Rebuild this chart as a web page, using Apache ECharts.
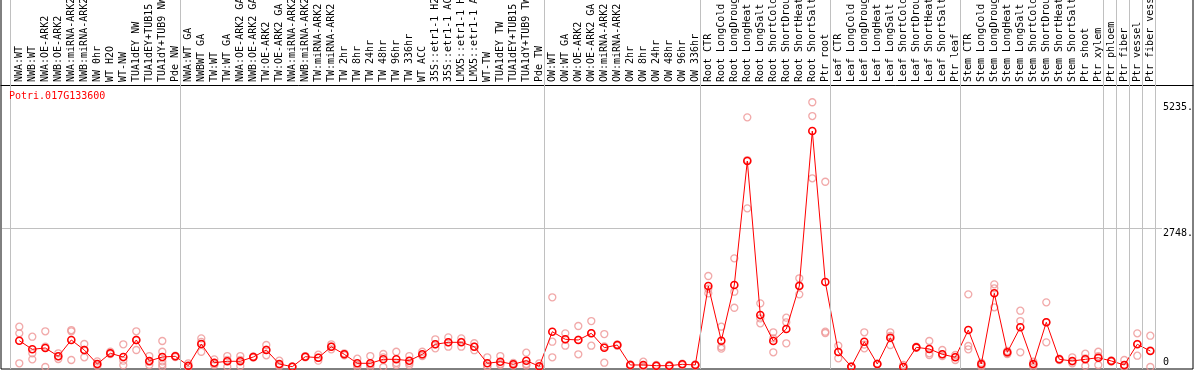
<!DOCTYPE html>
<html><head><meta charset="utf-8">
<script src="https://cdn.jsdelivr.net/npm/echarts@6/dist/echarts.min.js"></script>
<style>html,body{margin:0;padding:0;background:#fff}#c{width:1194px;height:370px}</style>
</head><body><div id="c"></div>
<script>
const geneId = 'Potri.017G133600';
const categories = [
  'NWA:WT','NWB:WT','NWA:OE-ARK2','NWB:OE-ARK2','NWA:miRNA-ARK2','NWB:miRNA-ARK2','NW 0hr','WT H2O','WT-NW','TUA1dEY NW','TUA1dEY+TUB15 NW','TUA1dY+TUB9 NW','Pde NW',
  'NWA:WT GA','NWBWT GA','TW:WT','TW:WT GA','NWA:OE-ARK2 GA','NWB:OE-ARK2 GA','TW:OE-ARK2','TW:OE-ARK2 GA','NWA:miRNA-ARK2 GA','NWB:miRNA-ARK2 GA','TW:miRNA-ARK2','TW:miRNA-ARK2 GA','TW 2hr','TW 8hr','TW 24hr','TW 48hr','TW 96hr','TW 336hr','WT ACC','35S::etr1-1 H2O','35S::etr1-1 ACC','LMX5::etr1-1 H2O','LMX5::etr1-1 ACC','WT-TW','TUA1dEY TW','TUA1dEY+TUB15 TW','TUA1dY+TUB9 TW','Pde TW',
  'OW:WT','OW:WT GA','OW:OE-ARK2','OW:OE-ARK2 GA','OW:miRNA-ARK2','OW:miRNA-ARK2 GA','OW 2hr','OW 8hr','OW 24hr','OW 48hr','OW 96hr','OW 336hr',
  'Root CTR','Root LongCold','Root LongDrought','Root LongHeat','Root LongSalt','Root ShortCold','Root ShortDrought','Root ShortHeat','Root ShortSalt','Ptr root',
  'Leaf CTR','Leaf LongCold','Leaf LongDrought','Leaf LongHeat','Leaf LongSalt','Leaf ShortCold','Leaf ShortDrought','Leaf ShortHeat','Leaf ShortSalt','Ptr leaf',
  'Stem CTR','Stem LongCold','Stem LongDrought','Stem LongHeat','Stem LongSalt','Stem ShortCold','Stem ShortDrought','Stem ShortHeat','Stem ShortSalt','Ptr shoot','Ptr xylem',
  'Ptr phloem','Ptr fiber','Ptr vessel','Ptr fiber vessel'
];
// index of the last sample in each group
const groupEnds = [12, 40, 52, 62, 72, 83, 84, 85, 86, 87];
const means = [
  520,350,376,212,534,336,59,271,198,534,
  119,198,212,26,455,85,113,113,198,336,
  59,6,204,184,401,251,73,73,152,152,
  125,251,449,488,488,401,73,105,53,125,
  14,698,548,534,666,382,435,40,40,26,
  26,53,40,1601,520,1621,4073,1028,514,751,
  1601,4666,1680,297,6,500,59,579,0,389,
  356,251,192,731,59,1457,291,785,59,884,
  152,119,152,184,119,40,449,316
];
const replicates = [
  [797,666,73],[599,271,152],[706,401,0],[271,212,158],[731,706,138],[455,336,192],[110,50,17],[302,271,257],[449,125,34],[706,534,336],
  [217,100,40],[514,302,112,53,6],[225,212,198],[73,6,0],[567,496,302],[152,63,40],[217,138,6],[217,138,20],[210,198,186],[435,342,231],
  [125,40,12],[10,6,0],[217,204,190],[243,184,125],[449,401,350],[271,251,231],[164,40,0],[217,40,0],[257,192,0],[302,79,40],
  [217,79,40],[302,231,217],[548,449,370],[587,488,401],[567,496,401],[470,401,332],[192,20,0],[217,60,38],[79,50,30],[283,60,30],
  [73,0,0],[1378,500,192],[666,548,421],[811,540,251],[909,668,421],[652,409,85],[448,435,421],[53,40,26],[105,15,0],[40,26,13],
  [40,26,13],[66,53,40],[53,40,27],[1799,1547,1457],[797,400,363],[2149,1489,1172],[4937,4092,3137],[1259,961,864],[686,565,291],[975,884,469],
  [1754,1612,1437],[5235,4962,3731],[3663,698,672],[421,297,172],[10,5,0],[686,444,370],[66,59,52],[686,616,435],[40,0,0],[400,389,378],
  [514,271,237],[336,251,217],[237,200,138],[1437,415,350],[85,40,6],[1635,1556,1180],[316,271,257],[1113,909,291],[105,40,0],[1279,885,488],
  [165,152,138],[192,105,73],[263,172,21],[302,217,40],[132,119,105],[138,0,0],[666,458,223],[619,329,0]
];
const yTicks = [2748, 5235];
const yTickLabels = ['2748.', '5235.'];
const gridLineValue = 2748;

// ---- layout constants ----
const W = 1194;
const PX = 13.0;          // px per sample
const GL = 1;             // grid left px
const FIRST = 19.3;       // px of first sample centre
const xMin = -(FIRST - GL) / PX;
const xMax = xMin + (W - 2) / PX;
const K = 139 / 2748.4;   // px per unit
const Y0 = 367;           // px of value 0
const yMin = -(369 - Y0) / K;
const yMax = (Y0 + 1) / K;
const sepOffset = 5 / PX;
const gridStartX = xMin + 0.08;
const gridEndX = (1162 - GL) / PX + xMin;

const FONT = 'DejaVu Sans Mono';
const SEP = '#c0c0c0';

const sepLines = [{xAxis: -9 / PX}].concat(groupEnds.map(e => ({xAxis: e + sepOffset})));
const repData = [];
replicates.forEach((arr, i) => arr.forEach(v => repData.push([i, v])));
const meanData = means.map((v, i) => [i, v]);

const chart = echarts.init(document.getElementById('c'), null, {renderer: 'canvas'});
chart.setOption({
  animation: false,
  backgroundColor: '#fff',
  title: {
    text: geneId, left: 9, top: 91, padding: 0,
    textStyle: {color: '#ff0000', fontSize: 10, fontFamily: FONT, fontWeight: 'normal'}
  },
  grid: {left: GL, right: 1, top: -1, bottom: 1, show: true, borderColor: '#000', borderWidth: 1,
         backgroundColor: 'transparent', containLabel: false, outerBoundsMode: 'none'},
  xAxis: [
    {type: 'value', min: xMin, max: xMax, show: false},
    {type: 'value', min: xMin, max: xMax, position: 'top', offset: -86,
     axisLine: {show: true, onZero: false, lineStyle: {color: '#000', width: 1}},
     axisTick: {show: false}, splitLine: {show: false},
     axisLabel: {
       customValues: categories.map((_, i) => i),
       formatter: v => categories[Math.round(v)] || '',
       rotate: -90, margin: 3, fontFamily: FONT, fontSize: 10, color: '#000'
     }}
  ],
  yAxis: [
    {type: 'value', min: yMin, max: yMax, position: 'right',
     axisLine: {show: false, onZero: false}, axisTick: {show: false}, splitLine: {show: false},
     axisLabel: {inside: true, customValues: yTicks,
       formatter: v => yTickLabels[yTicks.indexOf(v)] || String(v),
       align: 'left', verticalAlign: 'top', margin: 30, fontFamily: FONT, fontSize: 10, color: '#000'}},
    {type: 'value', min: yMin, max: yMax, position: 'right',
     axisLine: {show: false, onZero: false}, axisTick: {show: false}, splitLine: {show: false},
     axisLabel: {inside: true, customValues: [0], formatter: () => '0',
       align: 'left', verticalAlign: 'bottom', margin: 30, fontFamily: FONT, fontSize: 10, color: '#000'}}
  ],
  series: [
    {type: 'line', data: [], z: 1, silent: true,
     markLine: {silent: true, symbol: ['none', 'none'], label: {show: false}, animation: false,
       emphasis: {disabled: true},
       lineStyle: {color: SEP, type: 'solid', width: 1},
       data: sepLines}},
    {type: 'scatter', data: repData, z: 2, silent: true,
     symbol: 'circle', symbolSize: 7,
     itemStyle: {color: 'rgba(0,0,0,0)', borderColor: '#ee9494', borderWidth: 1.3},
     markLine: {silent: true, symbol: ['none', 'none'], label: {show: false}, animation: false,
       emphasis: {disabled: true}, z: 1,
       lineStyle: {color: SEP, type: 'solid', width: 1},
       data: [[{coord: [gridStartX, gridLineValue]}, {coord: [gridEndX, gridLineValue]}]]}},
    {type: 'line', data: meanData, z: 3, silent: true,
     symbol: 'circle', symbolSize: 7, showAllSymbol: true,
     lineStyle: {color: '#ff0000', width: 1},
     itemStyle: {color: 'rgba(0,0,0,0)', borderColor: '#ff0000', borderWidth: 1.6}}
  ]
});
</script>
</body></html>
